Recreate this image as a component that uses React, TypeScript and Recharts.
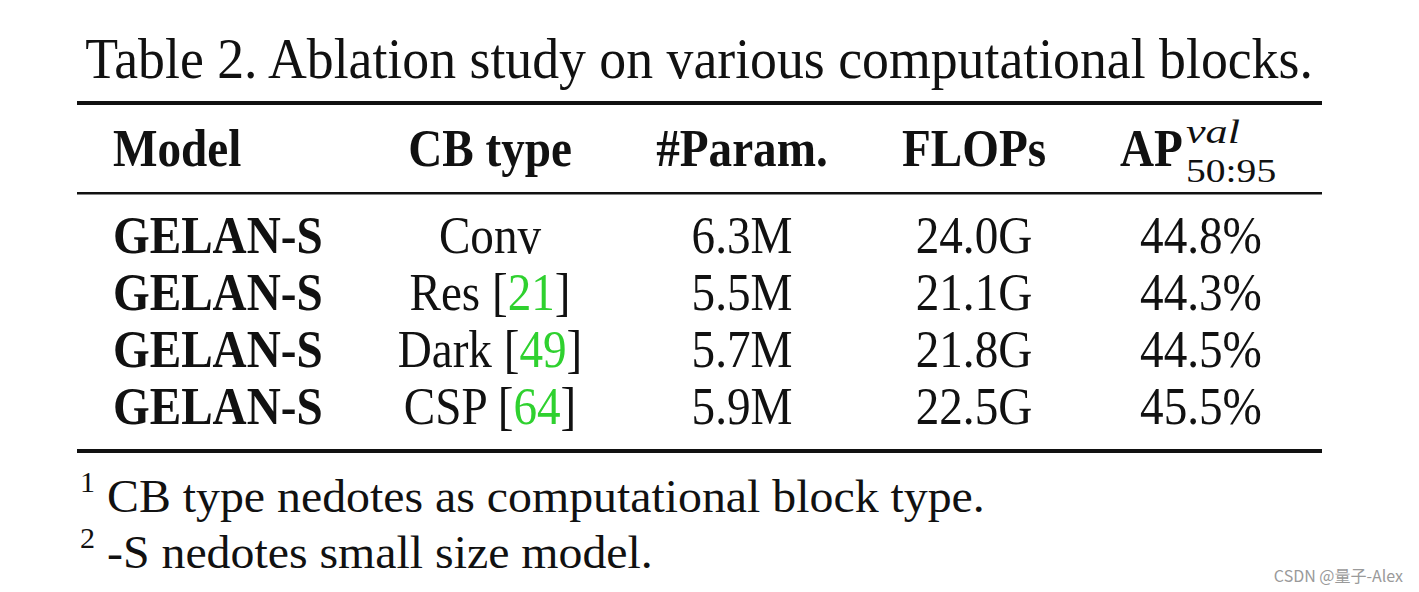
import React from "react";
import { ScatterChart, Customized } from "recharts";

if (typeof document !== "undefined") {
  document.body.style.margin = "0";
  document.body.style.background = "#fff";
}

const TITLE = "Table 2. Ablation study on various computational blocks.";
const HEADERS = ["Model", "CB type", "#Param.", "FLOPs"];
const MODELS = ["GELAN-S", "GELAN-S", "GELAN-S", "GELAN-S"];
const CB_TYPES = ["Conv", "Res", "Dark", "CSP"];
const CB_REFS = ["", "21", "49", "64"];
const PARAMS = ["6.3M", "5.5M", "5.7M", "5.9M"];
const FLOPS = ["24.0G", "21.1G", "21.8G", "22.5G"];
const AP = ["44.8%", "44.3%", "44.5%", "45.5%"];
const FOOTNOTES = [
  { mark: "1", text: "CB type nedotes as computational block type." },
  { mark: "2", text: "-S nedotes small size model." },
];

const SERIF = "'Liberation Serif', 'Times New Roman', serif";
const INK = "#111";
const CITE = "#2fd12f";
const SX = 0.89;

// column anchors and row baselines
const COL_X = [113, 490, 742, 974, 1201];
const HEAD_Y = 166;
const ROW_Y0 = 253;
const ROW_STEP = 57;

function T({
  x,
  y,
  size,
  sx = SX,
  anchor = "start",
  bold = false,
  italic = false,
  fill = INK,
  family = SERIF,
  children,
}: any) {
  return (
    <text
      transform={`translate(${x},${y}) scale(${sx},1)`}
      fontSize={size}
      fontFamily={family}
      fontWeight={bold ? "bold" : "normal"}
      fontStyle={italic ? "italic" : "normal"}
      textAnchor={anchor}
      fill={fill}
    >
      {children}
    </text>
  );
}

function TableLayer() {
  return (
    <g>
      <rect x={0} y={0} width={1419} height={592} fill="#fff" />
      <T x={699} y={78} size={56} sx={0.96} anchor="middle">
        {TITLE}
      </T>
      <rect x={77} y={101} width={1245} height={4} fill={INK} />

      {HEADERS.map((h, i) => (
        <T key={h} x={COL_X[i]} y={HEAD_Y} size={53} bold anchor={i === 0 ? "start" : "middle"}>
          {h}
        </T>
      ))}
      <T x={1120} y={HEAD_Y} size={53} bold>
        AP
      </T>
      <T x={1186} y={143} size={34} sx={1.3} italic>
        val
      </T>
      <T x={1186} y={182} size={33} sx={1.2}>
        50:95
      </T>
      <rect x={77} y={192} width={1245} height={2.5} fill={INK} />

      {MODELS.map((m, r) => {
        const y = ROW_Y0 + r * ROW_STEP;
        return (
          <g key={r}>
            <T x={COL_X[0]} y={y} size={53} bold>
              {m}
            </T>
            <T x={COL_X[1]} y={y} size={53} anchor="middle">
              {CB_TYPES[r]}
              {CB_REFS[r] ? (
                <>
                  {" ["}
                  <tspan fill={CITE}>{CB_REFS[r]}</tspan>
                  {"]"}
                </>
              ) : null}
            </T>
            <T x={COL_X[2]} y={y} size={53} anchor="middle">
              {PARAMS[r]}
            </T>
            <T x={COL_X[3]} y={y} size={53} anchor="middle">
              {FLOPS[r]}
            </T>
            <T x={COL_X[4]} y={y} size={53} anchor="middle">
              {AP[r]}
            </T>
          </g>
        );
      })}
      <rect x={77} y={449} width={1245} height={4} fill={INK} />

      {FOOTNOTES.map((f, i) => {
        const y = 512 + i * 56;
        return (
          <g key={f.mark}>
            <T x={80} y={y - 20} size={30} sx={1}>
              {f.mark}
            </T>
            <T x={107} y={y} size={46} sx={1.04}>
              {f.text}
            </T>
          </g>
        );
      })}

      <text
        x={1403}
        y={582}
        fontSize={16}
        fontFamily="'Noto Sans CJK SC', 'Noto Sans', sans-serif"
        textAnchor="end"
        fill="#9a9a9a"
      >
        CSDN @量子-Alex
      </text>
    </g>
  );
}

export default function App() {
  return (
    <ScatterChart width={1419} height={592} margin={{ top: 0, right: 0, bottom: 0, left: 0 }}>
      <Customized component={<TableLayer />} />
    </ScatterChart>
  );
}
